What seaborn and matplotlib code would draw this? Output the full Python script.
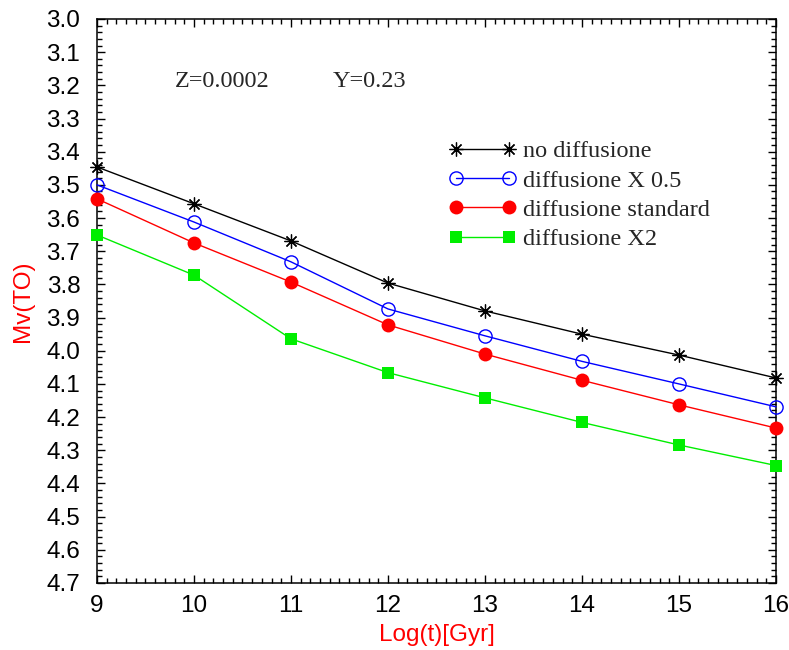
import matplotlib
matplotlib.use("Agg")
import matplotlib.pyplot as plt
from matplotlib.ticker import MultipleLocator, FormatStrFormatter
import seaborn as sns
import pandas as pd

# log age grid
log_t = [9, 10, 11, 12, 13, 14, 15, 16]

# turn-off magnitude for each diffusion treatment
no_diff = [3.446, 3.557, 3.669, 3.796, 3.880, 3.950, 4.013, 4.082]
diff_half = [3.500, 3.612, 3.732, 3.874, 3.955, 4.032, 4.100, 4.169]
diff_std = [3.542, 3.675, 3.793, 3.922, 4.010, 4.089, 4.163, 4.233]
diff_x2 = [3.651, 3.772, 3.964, 4.066, 4.142, 4.216, 4.284, 4.346]

series_names = ["no diffusione", "diffusione X 0.5", "diffusione standard", "diffusione X2"]

sns.set_style("ticks")
plt.rcParams["font.family"] = ["Liberation Sans", "DejaVu Sans"]

fig = plt.figure(figsize=(7.89, 6.5), dpi=100)
ax = fig.add_axes([0.1229, 0.1031, 0.8606, 0.8677])

styles = [
    dict(color="black", marker=(8, 2, 0), markersize=10, markeredgewidth=0.9,
         markerfacecolor="black", markeredgecolor="black"),
    dict(color="#0000ff", marker="o", markersize=9.5, markeredgewidth=1.0,
         markerfacecolor="none", markeredgecolor="#0000ff"),
    dict(color="#ff0000", marker="o", markersize=10, markeredgewidth=0,
         markerfacecolor="#ff0000"),
    dict(color="#00ee00", marker="s", markersize=9, markeredgewidth=0,
         markerfacecolor="#00ee00"),
]

for name, vals, st in zip(series_names, [no_diff, diff_half, diff_std, diff_x2], styles):
    df = pd.DataFrame({"logt": log_t, "mv": vals})
    sns.lineplot(data=df, x="logt", y="mv", ax=ax, label=name, linewidth=1.0,
                 clip_on=False, zorder=3, **st)

ax.set_xlim(9, 16)
ax.set_ylim(4.7, 3.0)
ax.xaxis.set_major_locator(MultipleLocator(1))
ax.xaxis.set_minor_locator(MultipleLocator(0.1))
ax.yaxis.set_major_locator(MultipleLocator(0.1))
ax.yaxis.set_minor_locator(MultipleLocator(0.02))
ax.yaxis.set_major_formatter(FormatStrFormatter("%.1f"))

for s in ax.spines.values():
    s.set_visible(True)
    s.set_linewidth(1.1)
    s.set_color("black")

ax.tick_params(which="both", direction="in", top=True, right=True, colors="black")
ax.tick_params(which="major", length=6, width=1.0, labelsize=17.5)
ax.tick_params(which="minor", length=3.5, width=1.0)
ax.tick_params(axis="y", which="major", pad=12)
ax.tick_params(axis="x", which="major", pad=9)

ax.set_xlabel("Log(t)[Gyr]", color="#ff0000", fontsize=17.5, labelpad=5)
ax.set_ylabel("Mv(TO)", color="#ff0000", fontsize=17.5, labelpad=9)

serif = ["Liberation Serif", "DejaVu Serif"]
ax.text(0.115, 0.879, "Z=0.0002", transform=ax.transAxes, fontsize=17.5,
        family=serif, ha="left", va="baseline")
ax.text(0.347, 0.879, "Y=0.23", transform=ax.transAxes, fontsize=17.5,
        family=serif, ha="left", va="baseline")

leg = ax.legend(loc="upper left", bbox_to_anchor=(0.503, 0.802), frameon=False,
                numpoints=2, handlelength=2.8, handletextpad=0.28,
                labelspacing=0.30, borderaxespad=0,
                prop={"family": serif, "size": 17.5})

fig.savefig("out.png", dpi=100, facecolor="white")
